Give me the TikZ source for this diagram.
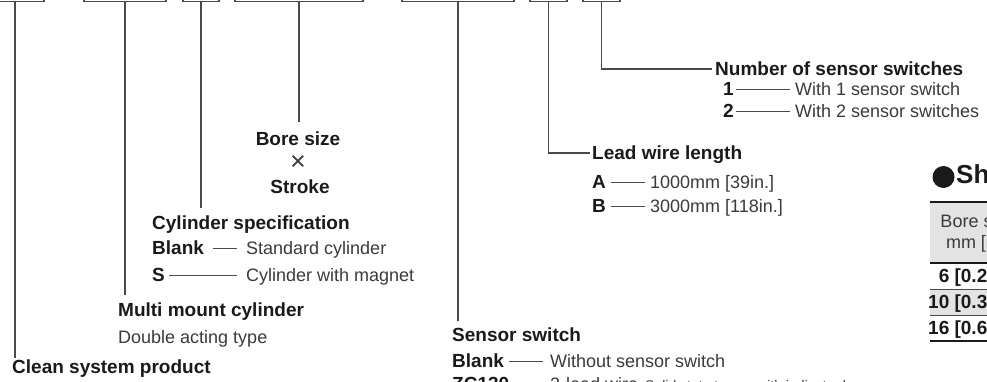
\documentclass[tikz,border=0pt]{standalone}
\usepackage{fontspec}
\setmainfont{Liberation Sans}
\definecolor{txtgray}{HTML}{3A3A3A}
\definecolor{keyblack}{HTML}{1A1A1A}
\definecolor{linegray}{HTML}{4A4A4A}
\definecolor{hdrgray}{HTML}{E3E3E3}
\tikzset{
  lbl/.style={anchor=west, inner sep=0pt, text height=12.8pt, text depth=0pt,
    text=txtgray, font=\fontsize{18}{21}\selectfont},
  head/.style={lbl, text=keyblack, font=\fontsize{19}{23}\selectfont\bfseries},
  key/.style={head},
  codebox/.style={draw=linegray, line width=1.6pt, minimum height=30pt, inner sep=0pt},
  lead/.style={draw=linegray, line width=1.1pt},
  opt/.style={draw=linegray, line width=0.9pt},
  rule/.style={draw=keyblack, line width=2.4pt},
  thinrule/.style={draw=linegray, line width=0.9pt},
}
\begin{document}
\begin{tikzpicture}[x=1pt,y=-1pt]
    \useasboundingbox (0,0) rectangle (987,382);

    \foreach \n/\cx/\w in {1/15/58, 2/125/82, 3/201/36, 4/299/128, 5/458/112, 6/548.5/37, 7/601.5/37} {
        \node[codebox, minimum width=\w pt] (b\n) at (\cx,-13.5) {};
    }

    \node[head] (num) at (715,69) {Number of sensor switches};
    \node[key] (k1) at (723,89) {1};
    \node[lbl] (v1) at (795,89) {With 1 sensor switch};
    \node[key] (k2) at (723,111) {2};
    \node[lbl] (v2) at (795,111) {With 2 sensor switches};

    \node[head] (wire) at (592,153) {Lead wire length};
    \node[key] (ka) at (592,182) {A};
    \node[lbl] (va) at (650,182) {1000mm [39in.]};
    \node[key] (kb) at (592,206) {B};
    \node[lbl] (vb) at (650,206) {3000mm [118in.]};

    \node[head, anchor=center] (bore) at (298,139) {Bore size};
    \node[lbl, anchor=center, text height=, font=\fontsize{27}{30}\selectfont] (times) at (298,163) {×};
    \node[head, anchor=center] (strk) at (300,187) {Stroke};

    \node[head] (cyl) at (152,223) {Cylinder specification};
    \node[key] (kbl) at (152,248) {Blank};
    \node[lbl] (vbl) at (246,248) {Standard cylinder};
    \node[key] (ks) at (152,275) {S};
    \node[lbl] (vs) at (246,275) {Cylinder with magnet};

    \node[head] (multi) at (118,310) {Multi mount cylinder};
    \node[lbl] (dbl) at (118,337) {Double acting type};

    \node[head] (clean) at (12,367) {Clean system product};

    \node[head] (sens) at (452,335) {Sensor switch};
    \node[key] (ksb) at (452,361) {Blank};
    \node[lbl] (vsb) at (550,361) {Without sensor switch};
    \node[key] (kzc) at (452,384) {ZC130};
    \node[lbl] (vzc) at (550,384) {2-lead wire};
    \node[lbl, font=\fontsize{14}{17}\selectfont] (vzs) at (645,384) {Solid state type};
    \node[lbl, font=\fontsize{14}{17}\selectfont] (vzl) at (757,384) {with indicator lamp};

    \draw[opt] ([xshift=2]k1.east) -- ([xshift=-5]v1.west);
    \draw[opt] ([xshift=2]k2.east) -- ([xshift=-5]v2.west);
    \draw[opt] ([xshift=5]ka.east) -- ([xshift=-5]va.west);
    \draw[opt] ([xshift=5]kb.east) -- ([xshift=-5]vb.west);
    \draw[opt] ([xshift=9]kbl.east) -- ([xshift=-9]vbl.west);
    \draw[opt] ([xshift=4]ks.east) -- ([xshift=-9]vs.west);
    \draw[opt] ([xshift=5]ksb.east) -- ([xshift=-7]vsb.west);
    \draw[opt] ([xshift=4]kzc.east) -- ([xshift=-6]vzc.west);

    \coordinate (e1) at (15,358);
    \coordinate (e2) at (125,295);
    \coordinate (e3) at (201,208);
    \coordinate (e4) at (299,122);
    \coordinate (e5) at (458,321);
    \draw[lead] (b1.south) -- (e1);
    \draw[lead] (b2.south) -- (e2);
    \draw[lead] (b3.south) -- (e3);
    \draw[lead] (b4.south) -- (e4);
    \draw[lead] (b5.south) -- (e5);
    \draw[lead] (b6.south) |- ([xshift=-2]wire.west);
    \draw[lead] (b7.south) |- ([xshift=-3]num.west);

    \fill[keyblack] (943.5,177) circle (11);
    \node[head, font=\fontsize{26}{30}\selectfont\bfseries] (sh) at (956,177) {Sh};

    \fill[hdrgray] (930,202) rectangle (987,263);
    \fill[hdrgray] (930,289) rectangle (987,315);
    \draw[rule] (930,202) -- (987,202);
    \draw[rule] (930,263) -- (987,263);
    \draw[thinrule] (930,289) -- (987,289);
    \draw[thinrule] (930,315) -- (987,315);
    \draw[rule] (930,341) -- (987,341);
    \node[lbl, anchor=center] (hd1) at (978,221) {Bore size};
    \node[lbl, anchor=center] (hd2) at (978,242) {mm [in.]};
    \node[key, anchor=east] (r1) at (1015,276) {6 [0.236]};
    \node[key, anchor=east] (r2) at (1015,302) {10 [0.394]};
    \node[key, anchor=east] (r3) at (1015,328) {16 [0.630]};
\end{tikzpicture}
\end{document}
